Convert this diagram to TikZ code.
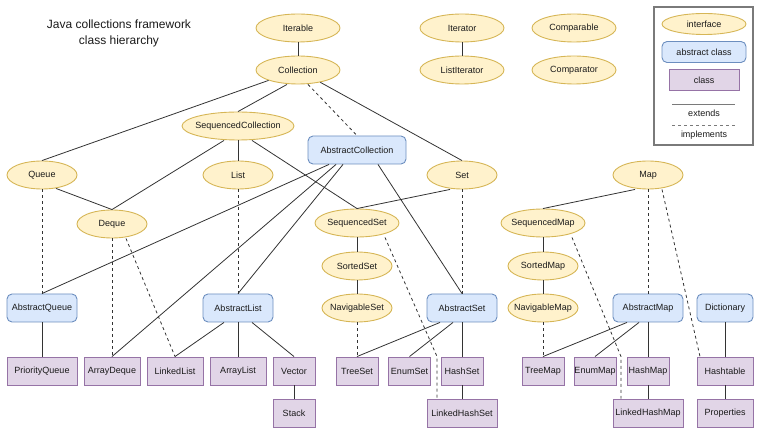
\documentclass[tikz,border=0pt]{standalone}
\usepackage{fontspec}
\setmainfont{Liberation Sans}
\usetikzlibrary{shapes.geometric}
\definecolor{iff}{HTML}{FFF2CC}
\definecolor{ifb}{HTML}{D6B656}
\definecolor{abf}{HTML}{DAE8FC}
\definecolor{abb}{HTML}{6C8EBF}
\definecolor{clf}{HTML}{E1D5E7}
\definecolor{clb}{HTML}{9673A6}
\definecolor{ln}{HTML}{333333}
\definecolor{tx}{HTML}{1A1A1A}
\definecolor{lg}{HTML}{7A7A7A}
\begin{document}
\begin{tikzpicture}[x=1pt,y=-1pt,
 every node/.style={font=\fontsize{9}{11}\selectfont, text=tx, inner sep=0pt},
 iface/.style={ellipse, draw=ifb, fill=iff, line width=0.9pt, inner xsep=-20pt, minimum width=#1, minimum height=28},
 iface/.default=70,
 abst/.style={rectangle, rounded corners=5pt, draw=abb, fill=abf, line width=0.9pt, minimum width=#1, minimum height=28},
 abst/.default=70,
 cls/.style={rectangle, draw=clb, fill=clf, line width=0.9pt, minimum width=#1, minimum height=28},
 cls/.default=42,
 ext/.style={draw=ln, line width=0.8pt},
 impl/.style={draw=ln, line width=0.8pt, dash pattern=on 3pt off 3pt},
 lgline/.style={draw=lg, line width=1pt},
]
\path[use as bounding box] (0,0) rectangle (760,435);

% title
\node[font=\fontsize{12}{16}\selectfont, align=center] (title) at (119,33) {Java collections framework\\class hierarchy};

% legend
\node[draw=lg, line width=1.4pt, minimum width=99, minimum height=138] (legend) at (703.5,76) {};
\node[iface=84, minimum height=21] (lgif) at (704,24) {interface};
\node[abst=84, minimum height=21] (lgab) at (704,52) {abstract class};
\node[cls=70, minimum height=21] (lgcl) at (704,80) {class};
\coordinate (le1) at (672,105);
\coordinate (le2) at (735,105);
\draw[lgline] (le1) -- (le2);
\node (lgext) at (704,113) {extends};
\coordinate (li1) at (672,126);
\coordinate (li2) at (735,126);
\draw[lgline, dash pattern=on 3pt off 3pt] (li1) -- (li2);
\node (lgimp) at (704,135) {implements};

% interfaces
\node[iface=84] (iterable) at (298,28) {Iterable};
\node[iface=84] (collection) at (298,70) {Collection};
\node[iface=84] (iterator) at (462,28) {Iterator};
\node[iface=84] (listiterator) at (462,70) {ListIterator};
\node[iface=84] (comparable) at (574,28) {Comparable};
\node[iface=84] (comparator) at (574,70) {Comparator};
\node[iface=112] (seqcoll) at (238,126) {SequencedCollection};
\node[iface] (queue) at (42,175) {Queue};
\node[iface] (list) at (238,175) {List};
\node[iface] (set) at (462,175) {Set};
\node[iface] (map) at (648,175) {Map};
\node[iface] (deque) at (112,224) {Deque};
\node[iface=84] (seqset) at (357,223) {SequencedSet};
\node[iface=84] (seqmap) at (543,223) {SequencedMap};
\node[iface] (sortedset) at (357,266) {SortedSet};
\node[iface] (sortedmap) at (543,266) {SortedMap};
\node[iface] (navset) at (357,308) {NavigableSet};
\node[iface] (navmap) at (543,308) {NavigableMap};

% abstract classes
\node[abst=98] (abscoll) at (357,150) {AbstractCollection};
\node[abst] (absqueue) at (42,308) {AbstractQueue};
\node[abst] (abslist) at (238,308) {AbstractList};
\node[abst] (absset) at (462,308) {AbstractSet};
\node[abst] (absmap) at (648,308) {AbstractMap};
\node[abst=56] (dictionary) at (725,308) {Dictionary};

% classes
\node[cls=70] (priorityqueue) at (42,371) {PriorityQueue};
\node[cls=56] (arraydeque) at (112,371) {ArrayDeque};
\node[cls=56] (linkedlist) at (175,371) {LinkedList};
\node[cls=56] (arraylist) at (238,371) {ArrayList};
\node[cls] (vector) at (294,371) {Vector};
\node[cls] (stack) at (294,413) {Stack};
\node[cls] (treeset) at (357,371) {TreeSet};
\node[cls] (enumset) at (409.5,371) {EnumSet};
\node[cls] (hashset) at (462,371) {HashSet};
\node[cls=70] (linkedhashset) at (462,413) {LinkedHashSet};
\node[cls] (treemap) at (543,371) {TreeMap};
\node[cls] (enummap) at (595,371) {EnumMap};
\node[cls] (hashmap) at (648,371) {HashMap};
\node[cls=70] (linkedhashmap) at (648,413) {LinkedHashMap};
\node[cls=56] (hashtable) at (725,371) {Hashtable};
\node[cls=56] (properties) at (725,413) {Properties};

% edges: extends
\draw[ext] (iterable) -- (collection);
\draw[ext] (iterator) -- (listiterator);
\draw[ext] (collection) -- (queue.north);
\draw[ext] ([xshift=-11]collection.south) -- (seqcoll.north);
\draw[ext] (collection) -- (set.north);
\draw[ext] (seqcoll) -- (list);
\draw[ext] ([xshift=-14]seqcoll.south) -- (deque.north);
\draw[ext] ([xshift=14]seqcoll.south) -- (seqset.north);
\draw[ext] ([xshift=14,yshift=1]queue.south) -- (deque.north);
\draw[ext] ([xshift=-12]set.south) -- (seqset.north);
\draw[ext] ([xshift=-28]abscoll.south) -- (absqueue.north);
\draw[ext] ([xshift=-21]abscoll.south) -- (arraydeque.north);
\draw[ext] ([xshift=-14]abscoll.south) -- (abslist.north);
\draw[ext] ([xshift=21]abscoll.south) -- (absset.north);
\draw[ext] (absqueue) -- (priorityqueue);
\draw[ext] ([xshift=-14]abslist.south) -- (linkedlist.north);
\draw[ext] (abslist) -- (arraylist);
\draw[ext] ([xshift=14]abslist.south) -- (vector.north);
\draw[ext] (vector) -- (stack);
\draw[ext] (seqset) -- (sortedset);
\draw[ext] (sortedset) -- (navset);
\draw[ext] ([xshift=-22]absset.south) -- (treeset.north);
\draw[ext] ([xshift=-9]absset.south) -- (enumset.north);
\draw[ext] (absset) -- (hashset);
\draw[ext] (hashset) -- (linkedhashset);
\draw[ext] ([xshift=-13]map.south) -- (seqmap.north);
\draw[ext] (seqmap) -- (sortedmap);
\draw[ext] (sortedmap) -- (navmap);
\draw[ext] ([xshift=-21]absmap.south) -- (treemap.north);
\draw[ext] ([xshift=-9]absmap.south) -- (enummap.north);
\draw[ext] (absmap) -- (hashmap);
\draw[ext] (hashmap) -- (linkedhashmap);
\draw[ext] (dictionary) -- (hashtable);
\draw[ext] (hashtable) -- (properties);

% edges: implements
\draw[impl] ([xshift=10]collection.south) -- (abscoll.north);
\draw[impl] (queue) -- (absqueue);
\draw[impl] (list) -- (abslist);
\draw[impl] (set) -- (absset);
\draw[impl] (deque) -- (arraydeque);
\draw[impl] ([xshift=14]deque.south) -- (linkedlist.north);
\draw[impl] (navset) -- (treeset);
\draw[impl] ([xshift=28]seqset.south) -- ([xshift=-25,yshift=42]linkedhashset.north) -- ([xshift=-25]linkedhashset.north);
\draw[impl] (map) -- (absmap);
\draw[impl] ([xshift=14]map.south) -- ([xshift=-25]hashtable.north);
\draw[impl] (navmap) -- (treemap);
\draw[impl] ([xshift=29]seqmap.south) -- ([xshift=-27,yshift=42]linkedhashmap.north) -- ([xshift=-27]linkedhashmap.north);
\end{tikzpicture}
\end{document}
